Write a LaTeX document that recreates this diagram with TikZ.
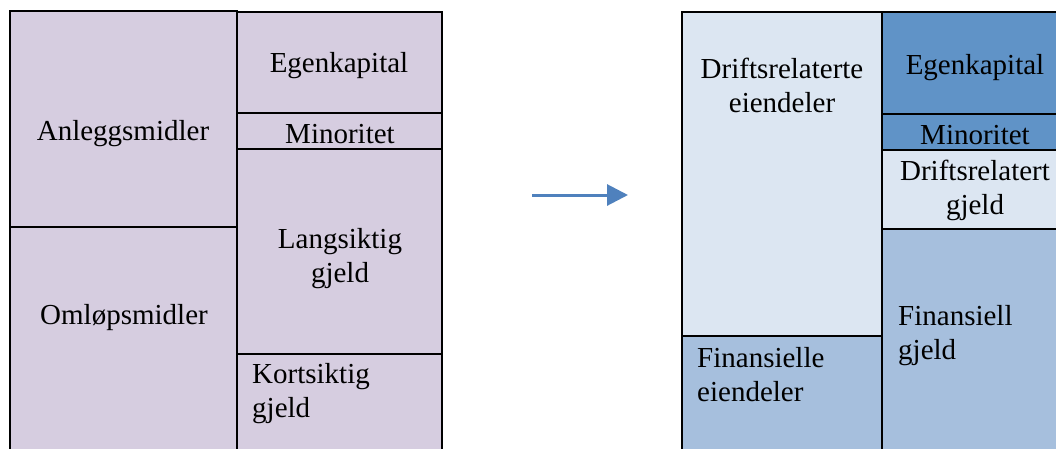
\documentclass[tikz,border=0pt]{standalone}
\usepackage{fontspec}
\setmainfont{Liberation Serif}
\usetikzlibrary{arrows.meta}
\definecolor{lavendel}{RGB}{214,205,224}
\definecolor{lysblaa}{RGB}{220,230,242}
\definecolor{mellomblaa}{RGB}{166,191,221}
\definecolor{morkblaa}{RGB}{96,147,199}
\definecolor{pilblaa}{RGB}{79,129,189}

\begin{document}
\begin{tikzpicture}[x=1pt,y=-1pt,
    boks/.style={draw=black, line width=1.5pt},
    tekst/.style={inner sep=0pt, font=\fontsize{29}{34}\selectfont, align=center}]
      \useasboundingbox (0,0) rectangle (1056,448);
      % gammel balanse
      \filldraw[boks, fill=lavendel] (10,11) rectangle (237,227);
      \filldraw[boks, fill=lavendel] (10,227) rectangle (237,460);
      \filldraw[boks, fill=lavendel] (237,12) rectangle (442,113);
      \filldraw[boks, fill=lavendel] (237,113) rectangle (442,149);
      \filldraw[boks, fill=lavendel] (237,149) rectangle (442,354);
      \filldraw[boks, fill=lavendel] (237,354) rectangle (442,460);
      \node (AM) at (123,134) [tekst] {Anleggsmidler};
      \node (OM) at (124,318) [tekst] {Omløpsmidler};
      \node (EK1) at (339,66) [tekst] {Egenkapital};
      \node (MI1) at (340,134) [tekst] {Minoritet};
      \node (LG) at (340,259) [tekst] {Langsiktig\\gjeld};
      \node (KG) at (252,394) [tekst, anchor=west, align=left] {Kortsiktig\\gjeld};
      % omgruppert balanse
      \filldraw[boks, fill=lysblaa] (682,12) rectangle (882,336);
      \filldraw[boks, fill=mellomblaa] (682,336) rectangle (882,460);
      \filldraw[boks, fill=morkblaa] (882,12) rectangle (1060,114);
      \filldraw[boks, fill=morkblaa] (882,114) rectangle (1060,150);
      \filldraw[boks, fill=lysblaa] (882,150) rectangle (1060,229);
      \filldraw[boks, fill=mellomblaa] (882,229) rectangle (1060,460);
      \node (DE) at (782,85) [tekst] {Driftsrelaterte\\eiendeler};
      \node (FE) at (697,375) [tekst, anchor=west, align=left] {Finansielle\\eiendeler};
      \node (EK2) at (975,68) [tekst] {Egenkapital};
      \node (MI2) at (975,135) [tekst] {Minoritet};
      \node (DG) at (975,190) [tekst] {Driftsrelatert\\gjeld};
      \node (FG) at (898,336) [tekst, anchor=west, align=left] {Finansiell\\gjeld};
      % pil
      \coordinate (fra) at (532,195);
      \coordinate (til) at (628,195);
      \draw[pilblaa, line width=3pt, -{Triangle[length=21pt,width=21pt]}] (fra) -- (til);
\end{tikzpicture}
\end{document}
